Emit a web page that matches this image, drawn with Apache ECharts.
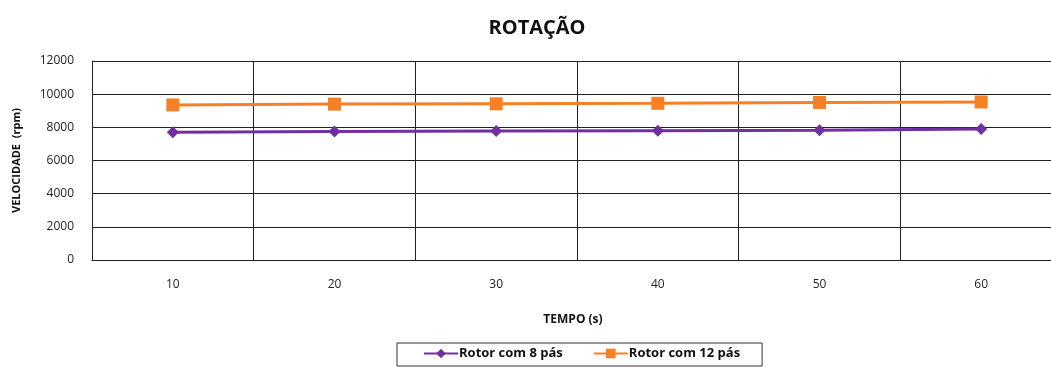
<!DOCTYPE html>
<html>
<head>
<meta charset="utf-8">
<script src="https://cdn.jsdelivr.net/npm/echarts@6/dist/echarts.min.js"></script>
<style>
  html, body { margin: 0; padding: 0; background: #ffffff; overflow: hidden; }
  /* the plot frame runs on past the right edge of the window */
  #chart { width: 1062px; height: 367px; }
</style>
</head>
<body>
<div id="chart"></div>
<script>
// Time in seconds (category labels)
const tempos = ['10', '20', '30', '40', '50', '60'];
// Rotor speed in rpm
const rotor8 = [7700, 7750, 7780, 7800, 7830, 7900];
const rotor12 = [9350, 9400, 9420, 9450, 9500, 9530];
const seriesNames = ['Rotor com 8 pás', 'Rotor com 12 pás'];

const FONT = '"Open Sans", "Liberation Sans", sans-serif';

const chart = echarts.init(document.getElementById('chart'), null, { renderer: 'canvas' });
chart.setOption({
  backgroundColor: '#ffffff',
  animation: false,
  title: {
    text: 'ROTAÇÃO',
    left: 532,
    top: 13,
    textAlign: 'center',
    textStyle: { fontFamily: FONT, fontSize: 20, fontWeight: 'bold', color: '#111' }
  },
  legend: {
    data: seriesNames,
    left: 397,
    top: 343,
    padding: [4, 22, 6, 26],
    itemGap: 30,
    itemWidth: 34,
    itemHeight: 12,
    borderColor: '#333',
    borderWidth: 1,
    textStyle: { fontFamily: FONT, fontSize: 13, fontWeight: 'bold', color: '#111', padding: [0, 0, 0, -4] }
  },
  grid: { left: 92, top: 61, right: 0, bottom: 107 },
  xAxis: {
    type: 'category',
    data: tempos,
    boundaryGap: true,
    name: 'TEMPO (s)',
    nameLocation: 'middle',
    nameGap: 54,
    nameTextStyle: { fontFamily: FONT, fontSize: 12, fontWeight: 'bold', color: '#111', padding: [0, 8, 0, 0] },
    axisLine: { lineStyle: { color: '#222', width: 1 } },
    axisTick: { show: false },
    axisLabel: { fontFamily: FONT, fontSize: 12, color: '#222', margin: 19 },
    splitLine: { show: true, lineStyle: { color: '#222', width: 1 } }
  },
  yAxis: {
    type: 'value',
    min: 0,
    max: 12000,
    interval: 2000,
    name: 'VELOCIDADE  (rpm)',
    nameLocation: 'middle',
    nameGap: 70,
    nameTextStyle: { fontFamily: FONT, fontSize: 11, fontWeight: 'bold', color: '#111' },
    axisLine: { show: true, lineStyle: { color: '#222', width: 1 } },
    axisTick: { show: false },
    axisLabel: { fontFamily: FONT, fontSize: 12, color: '#222', margin: 18, formatter: v => String(v) },
    splitLine: { show: true, lineStyle: { color: '#222', width: 1 } }
  },
  series: [
    {
      name: seriesNames[0],
      type: 'line',
      data: rotor8,
      symbol: 'diamond',
      symbolSize: 12,
      itemStyle: { color: '#7030A0' },
      lineStyle: { color: '#7030A0', width: 3 }
    },
    {
      name: seriesNames[1],
      type: 'line',
      data: rotor12,
      symbol: 'rect',
      symbolSize: 13,
      itemStyle: { color: '#F58026' },
      lineStyle: { color: '#F58026', width: 3 }
    }
  ]
});
</script>
</body>
</html>
